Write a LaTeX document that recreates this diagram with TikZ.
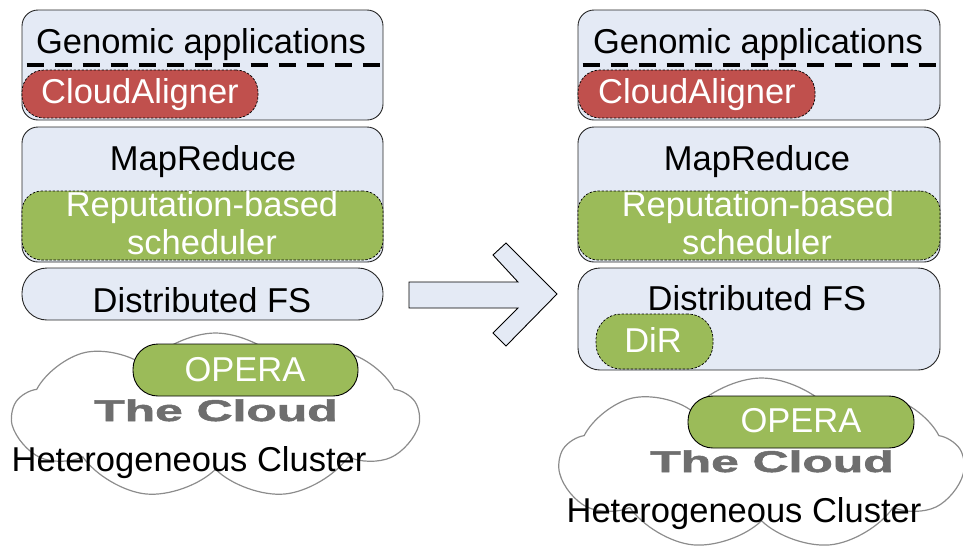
\documentclass[tikz,border=0pt]{standalone}
\usepackage{fontspec}
\setmainfont{Liberation Sans}
\newfontfamily\stampfont[FakeBold=1.6]{Liberation Sans Bold}
\usetikzlibrary{shapes.symbols}
\definecolor{layerfill}{HTML}{E4EAF5}
\definecolor{redfill}{HTML}{C0504D}
\definecolor{greenfill}{HTML}{9BBB59}
\definecolor{cloudline}{HTML}{8C8C8C}
\definecolor{cloudtext}{HTML}{6E6E6E}
\tikzset{
  layer/.style={draw=black!85, line width=0.9pt, fill=layerfill, rounded corners=#1, inner sep=0pt},
  addon/.style={draw=black, line width=0.7pt, dash pattern=on 2.5pt off 1.5pt, rounded corners=#1, inner sep=0pt},
  redpill/.style={addon=#1, fill=redfill},
  greenpill/.style={addon=#1, fill=greenfill},
  basepill/.style={draw=black, line width=0.9pt, fill=greenfill, rounded corners=#1, inner sep=0pt},
  divider/.style={line width=3.2pt, dash pattern=on 17pt off 11pt},
  sky/.style={cloud, cloud puffs=9, cloud puff arc=100, aspect=2.4, draw=cloudline, line width=1.2pt, inner sep=0pt},
  dark/.style={anchor=base, text=black, font=\fontsize{34.5}{39}\selectfont, inner sep=0pt},
  light/.style={dark, text=white},
  stamp/.style={anchor=base, text=cloudtext, font=\fontsize{30}{34}\stampfont, inner sep=0pt},
  bigarrow/.style={draw=black, line width=0.9pt, fill=layerfill, line join=miter}
}
\begin{document}
\begin{tikzpicture}[x=1pt,y=-1pt]
\useasboundingbox (0,0) rectangle (963,550);

% ---------- left stack ----------
\node[layer=16pt, minimum width=361pt, minimum height=110pt] (genL) at (202.5,65) {};
\draw[divider] ([xshift=5pt]genL.west) -- ([xshift=2pt]genL.east);
\node[redpill=22pt, minimum width=236pt, minimum height=48pt] (caL) at (140,94) {};
\node[dark] (genLt) at (201,53) {Genomic applications};
\node[light] (caLt) at (140,103) {CloudAligner};

\node[layer=16pt, minimum width=361pt, minimum height=135pt] (mrL) at (202.5,194.5) {};
\node[greenpill=20pt, minimum width=361pt, minimum height=69pt] (repL) at (202.5,225.5) {};
\node[dark] (mrLt) at (203,170) {MapReduce};
\node[light] (repLa) at (202,216) {Reputation-based};
\node[light] (repLb) at (202,254) {scheduler};

\node[layer=25pt, minimum width=361pt, minimum height=52pt] (dfsL) at (202.5,294) {};
\node[dark] (dfsLt) at (202,312) {Distributed FS};

\node[sky, minimum width=405pt, minimum height=166pt] (cloudL) at (215.5,416) {};
\node[basepill=25pt, minimum width=225pt, minimum height=52pt] (operaL) at (245.5,370) {};
\node[light] (operaLt) at (245,381) {OPERA};
\node[stamp] (skyL) at (216,421) {\scalebox{1.66}[1]{The Cloud}};
\node[dark] (hetL) at (189,471) {Heterogeneous Cluster};

% ---------- transition arrow ----------
\draw[bigarrow] (409,282) -- (518,282) -- (493,255) -- (506,243) -- (557,294)
  -- (506,346) -- (493,333) -- (518,308) -- (409,308) -- cycle;

% ---------- right stack ----------
\node[layer=16pt, minimum width=362pt, minimum height=110pt] (genR) at (759,65) {};
\draw[divider] ([xshift=5pt]genR.west) -- ([xshift=2pt]genR.east);
\node[redpill=22pt, minimum width=237pt, minimum height=48pt] (caR) at (696.5,94) {};
\node[dark] (genRt) at (758,53) {Genomic applications};
\node[light] (caRt) at (697,103) {CloudAligner};

\node[layer=16pt, minimum width=362pt, minimum height=135pt] (mrR) at (759,194.5) {};
\node[greenpill=20pt, minimum width=362pt, minimum height=69pt] (repR) at (759,225.5) {};
\node[dark] (mrRt) at (757,170) {MapReduce};
\node[light] (repRa) at (758,216) {Reputation-based};
\node[light] (repRb) at (757,254) {scheduler};

\node[layer=22pt, minimum width=362pt, minimum height=102pt] (dfsR) at (759,319) {};
\node[dark] (dfsRt) at (757,310) {Distributed FS};
\node[greenpill=25pt, minimum width=117pt, minimum height=55pt] (dirR) at (654.5,341.5) {};
\node[light] (dirRt) at (653,352) {DiR};

\node[sky, minimum width=403pt, minimum height=172pt] (cloudR) at (761.5,464) {};
\node[basepill=25pt, minimum width=226pt, minimum height=52pt] (operaR) at (801,422) {};
\node[light] (operaRt) at (801,432) {OPERA};
\node[stamp] (skyR) at (772,472) {\scalebox{1.66}[1]{The Cloud}};
\node[dark] (hetR) at (744,522) {Heterogeneous Cluster};
\end{tikzpicture}
\end{document}
